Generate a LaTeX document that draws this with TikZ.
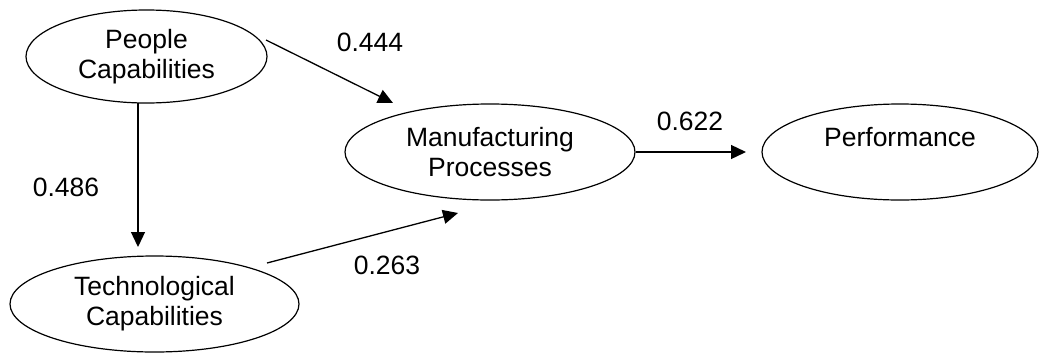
\documentclass[tikz,border=0pt]{standalone}
\usepackage{fontspec}
\setmainfont{Liberation Sans}
\usetikzlibrary{shapes.geometric,arrows.meta}
\begin{document}
\begin{tikzpicture}[x=1pt,y=-1pt,
  latent/.style={ellipse,draw,line width=1.2pt,inner sep=0pt,align=center,
    font=\fontsize{26.5}{30}\selectfont},
  coef/.style={font=\fontsize{26.5}{30}\selectfont,inner sep=0pt},
  path/.style={line width=1.3pt,-{Triangle[length=15pt,width=14pt]}}]
\useasboundingbox (0,0) rectangle (1039,354);
\node[latent,minimum width=241pt,minimum height=93pt] (PC) at (146.5,56.5) {People\\Capabilities};
\node[latent,minimum width=289pt,minimum height=96pt] (TC) at (154.5,304) {Technological\\Capabilities};
\node[latent,minimum width=290pt,minimum height=96pt] (MP) at (490,152) {Manufacturing\\Processes};
\node[latent,minimum width=276pt,minimum height=96pt] (PF) at (900,152) {Performance\\\mbox{}};
\coordinate (s1) at (266,40);
\coordinate (t1) at (393,103);
\coordinate (s2) at (138,103);
\coordinate (t2) at (138,247);
\coordinate (s3) at (267,263);
\coordinate (t3) at (458,213);
\coordinate (t4) at (746,152);
\draw[path] (s1) -- (t1);
\draw[path] (s2) -- (t2);
\draw[path] (s3) -- (t3);
\draw[path] (MP.east) -- (t4);
\node[coef] (c1) at (370,42) {0.444};
\node[coef] (c2) at (66,187) {0.486};
\node[coef] (c3) at (387,265) {0.263};
\node[coef] (c4) at (690,121) {0.622};
\end{tikzpicture}
\end{document}
